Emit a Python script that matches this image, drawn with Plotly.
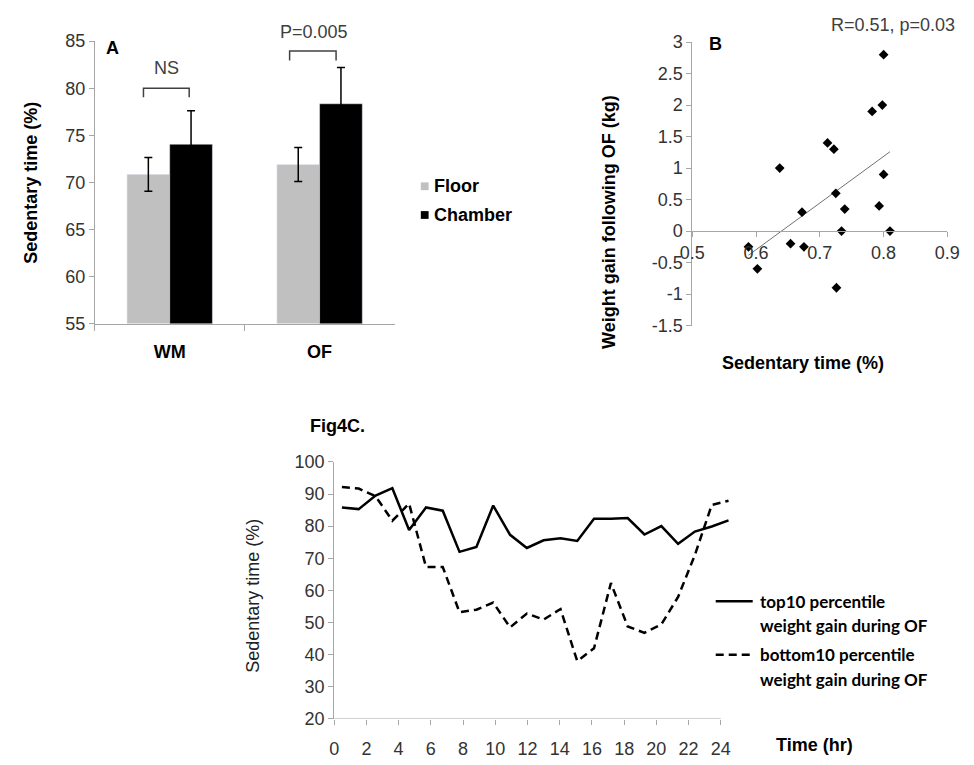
import numpy as np
import plotly.graph_objects as go

W, H = 974, 765


def fx(p):
    return p / W


def fy(p):
    return 1 - p / H


# ---------------- Panel A data ----------------
groups = ["WM", "OF"]
floor_mean = [70.85, 71.9]
floor_err = [1.8, 1.8]
chamber_mean = [74.05, 78.35]
chamber_err = [3.55, 3.85]
sig_labels = ["NS", "P=0.005"]
# bracket spans (category-index units) and heights (axis units)
sig_x0 = [-0.175, 0.80]
sig_x1 = [0.13, 1.11]
sig_top = [80.0, 83.95]
sig_leg = [79.05, 82.95]
sig_text_y = [82.1, 86.0]
sig_text_x = [-0.02, 0.96]

# ---------------- Panel B data ----------------
sed_time = [0.588, 0.602, 0.637, 0.654, 0.672, 0.675, 0.712, 0.722, 0.725,
            0.726, 0.734, 0.739, 0.782, 0.793, 0.798, 0.800, 0.800, 0.810]
weight_gain = [-0.25, -0.60, 1.00, -0.20, 0.30, -0.25, 1.40, 1.30, 0.60,
               -0.90, 0.00, 0.35, 1.90, 0.40, 2.00, 2.80, 0.90, 0.00]
b_xticks = [0.5, 0.6, 0.7, 0.8, 0.9]
b_xtext = ["0.5", "0.6", "0.7", "0.8", "0.9"]
b_yticks = [-1.5, -1, -0.5, 0, 0.5, 1, 1.5, 2, 2.5, 3]
b_ytext = ["-1.5", "-1", "-0.5", "0", "0.5", "1", "1.5", "2", "2.5", "3"]

# ---------------- Panel C data ----------------
hours = [0.48, 1.52, 2.57, 3.61, 4.65, 5.70, 6.74, 7.78, 8.83, 9.87, 10.92, 11.96,
         13.00, 14.05, 15.09, 16.13, 17.18, 18.22, 19.26, 20.31, 21.35, 22.39, 23.44, 24.48]
top10 = [85.8, 85.3, 89.5, 91.8, 78.8, 85.8, 84.8, 72.0, 73.5, 86.4, 77.3, 73.2,
         75.6, 76.2, 75.4, 82.3, 82.3, 82.5, 77.4, 80.0, 74.5, 78.3, 79.9, 81.8]
bottom10 = [92.2, 91.7, 89.3, 81.7, 87.0, 67.3, 67.3, 53.2, 54.0, 56.2, 48.5, 52.8,
            50.9, 54.2, 38.0, 42.0, 62.3, 48.8, 46.8, 49.4, 58.0, 71.0, 86.6, 87.9]
c_xticks = [0, 2, 4, 6, 8, 10, 12, 14, 16, 18, 20, 22, 24]
c_legend = ["top10 percentile<br>weight gain during OF",
            "bottom10 percentile<br>weight gain during OF"]

AX = "#a6a6a6"
TXT = "#333333"
FONT = "Liberation Sans, Arial, sans-serif"

fig = go.Figure()

# Panel A bars
fig.add_trace(go.Bar(x=groups, y=floor_mean, name="Floor", marker_color="#c0c0c0",
                     error_y=dict(type="data", array=floor_err, color="black", thickness=1.5, width=4),
                     xaxis="x", yaxis="y", showlegend=False))
fig.add_trace(go.Bar(x=groups, y=chamber_mean, name="Chamber", marker_color="black",
                     error_y=dict(type="data", array=chamber_err, color="black", thickness=1.5, width=4),
                     xaxis="x", yaxis="y", showlegend=False))

# Panel B scatter + trendline
slope, intercept = np.polyfit(sed_time, weight_gain, 1)
tx = np.array([min(sed_time), max(sed_time)])
fig.add_trace(go.Scatter(x=tx, y=slope * tx + intercept, mode="lines",
                         line=dict(color="#707070", width=1), xaxis="x2", yaxis="y2", showlegend=False))
fig.add_trace(go.Scatter(x=sed_time, y=weight_gain, mode="markers",
                         marker=dict(symbol="diamond", size=7.5, color="black"),
                         xaxis="x2", yaxis="y2", showlegend=False, cliponaxis=False))

# Panel C lines
fig.add_trace(go.Scatter(x=hours, y=top10, mode="lines", name=c_legend[0],
                         line=dict(color="black", width=2.5), xaxis="x3", yaxis="y3", showlegend=False))
fig.add_trace(go.Scatter(x=hours, y=bottom10, mode="lines", name=c_legend[1],
                         line=dict(color="black", width=2.5, dash="8px,5px"), xaxis="x3", yaxis="y3",
                         showlegend=False))

tickfont = dict(family=FONT, size=18, color=TXT)

fig.update_layout(
    width=W, height=H, margin=dict(l=0, r=0, t=0, b=0),
    paper_bgcolor="white", plot_bgcolor="white",
    barmode="group", bargap=0.43, bargroupgap=0,
    xaxis=dict(domain=[fx(84), fx(392)], type="category", tickson="boundaries",
               ticks="outside", ticklen=6, tickcolor=AX, showline=True, linecolor=AX,
               tickfont=dict(family=FONT, size=18, color="black", weight="bold"),
               ticklabelstandoff=12, anchor="y", showgrid=False, zeroline=False),
    yaxis=dict(domain=[fy(322), fy(32)], range=[55, 85], dtick=5, ticks="outside", ticklen=5,
               tickcolor=AX, showline=True, linecolor=AX, tickfont=tickfont, anchor="x",
               showgrid=False, zeroline=False),
    xaxis2=dict(domain=[fx(698), fx(960)], range=[0.5, 0.9], tickvals=b_xticks, ticktext=b_xtext,
                ticks="outside", ticklen=5, tickcolor=AX, showline=True, linecolor=AX,
                tickfont=tickfont, anchor="free", position=fy(227), showgrid=False, zeroline=False),
    yaxis2=dict(domain=[fy(324), fy(33)], range=[-1.5, 3], tickvals=b_yticks, ticktext=b_ytext,
                ticks="outside", ticklen=5, tickcolor=AX, showline=True, linecolor=AX,
                tickfont=tickfont, anchor="x2", showgrid=False, zeroline=False),
    xaxis3=dict(domain=[fx(330), fx(330 + 24.55 * 16.55)], range=[0, 24.55], tickvals=c_xticks,
                ticks="outside", ticklen=5, tickcolor=AX, showline=False,
                tickfont=tickfont, ticklabelstandoff=8, anchor="y3", showgrid=False, zeroline=False),
    yaxis3=dict(domain=[fy(728), fy(464)], range=[20, 100], dtick=10, ticks="outside", ticklen=5,
                tickcolor=AX, showline=True, linecolor=AX, tickfont=tickfont, anchor="x3",
                showgrid=False, zeroline=False),
)

shapes = []
annotations = []

# Panel C x-axis line (from 0 to 24 h)
shapes.append(dict(type="line", xref="x3", yref="y3", x0=c_xticks[0], x1=c_xticks[-1], y0=20, y1=20,
                   line=dict(color=AX, width=1)))

# Significance brackets (labels placed in axis-domain coordinates so they may sit above the plot)
for x0, x1, yt, yl, lab, tx_, ty_ in zip(sig_x0, sig_x1, sig_top, sig_leg, sig_labels, sig_text_x, sig_text_y):
    shapes.append(dict(type="path", xref="x", yref="y",
                       path=f"M {x0},{yl} L {x0},{yt} L {x1},{yt} L {x1},{yl}",
                       line=dict(color="#404040", width=1.5)))
    annotations.append(dict(x=(tx_ + 0.5) / len(groups), y=(ty_ - 55) / 30,
                            xref="x domain", yref="y domain", text=lab, showarrow=False,
                            xanchor="center", yanchor="middle",
                            font=dict(family=FONT, size=18, color="#404040")))

# Panel A legend (manual)
legA = [("Floor", "#c0c0c0", 181), ("Chamber", "black", 210.5)]
for name, col, yc in legA:
    shapes.append(dict(type="rect", xref="paper", yref="paper", x0=fx(419), x1=fx(427),
                       y0=fy(yc + 4), y1=fy(yc - 4), fillcolor=col, line=dict(width=0)))
    annotations.append(dict(x=fx(431), y=fy(yc), xref="paper", yref="paper", text=name, showarrow=False,
                            xanchor="left", yanchor="middle",
                            font=dict(family=FONT, size=18, color="black", weight="bold")))

# Panel C legend (manual)
legC = [("solid", 607, 632, c_legend[0]), ("8px,5px", 662, 687, c_legend[1])]
for dash, y1, y2, txt in legC:
    shapes.append(dict(type="line", xref="paper", yref="paper", x0=fx(722), x1=fx(760),
                       y0=fy(y1), y1=fy(y1), line=dict(color="black", width=2.5, dash=dash)))
    l1, l2 = txt.split("<br>")
    for t, yy in ((l1, y1), (l2, y2)):
        annotations.append(dict(x=fx(765), y=fy(yy), xref="paper", yref="paper", text=t, showarrow=False,
                                xanchor="left", yanchor="middle",
                                font=dict(family="Lato, sans-serif", size=17, color="black", weight="bold")))


# Titles and labels
def ann(x, y, text, size=18, bold=False, angle=0, xanchor="center", color="black"):
    annotations.append(dict(x=fx(x), y=fy(y), xref="paper", yref="paper", text=text, showarrow=False,
                            textangle=angle, xanchor=xanchor, yanchor="middle",
                            font=dict(family=FONT, size=size, color=color,
                                      weight="bold" if bold else "normal")))


ann(19, 177, "Sedentary time (%)", bold=True, angle=-90)
ann(102, 39, "A", bold=True)
ann(722, 35, "B", bold=True)
ann(904, 15, "R=0.51, p=0.03", color="#404040")
ann(613, 218, "Weight gain following OF (kg)", bold=True, angle=-90)
ann(812, 362, "Sedentary time (%)", bold=True)
ann(333, 427, "Fig4C.", bold=True)
ann(247, 601, "Sedentary time (%)", angle=-90, color="#222222")
ann(782, 755, "Time (hr)", bold=True, xanchor="left")

fig.update_layout(shapes=shapes, annotations=annotations)

fig.write_html("out.html")
